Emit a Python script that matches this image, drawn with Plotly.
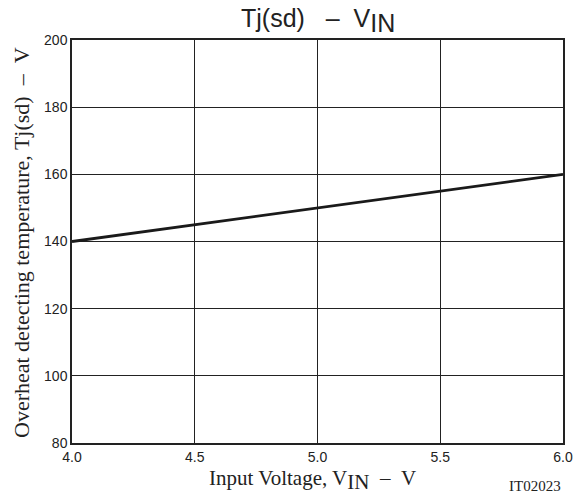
import plotly.graph_objects as go

vin = [4.0, 6.0]
tj = [140, 160]
x_ticks = [4.0, 4.5, 5.0, 5.5, 6.0]
x_tick_labels = ["4.0", "4.5", "5.0", "5.5", "6.0"]
y_ticks = [80, 100, 120, 140, 160, 180, 200]

SANS = "Liberation Sans, Arial, sans-serif"
SERIF = "Liberation Serif, Times New Roman, serif"
NB = "\u00a0"

fig = go.Figure()
fig.add_trace(go.Scatter(x=vin, y=tj, mode="lines",
                         line=dict(color="#1a1a1a", width=2.8),
                         showlegend=False, hoverinfo="skip"))

fig.update_layout(
    width=576, height=497, autosize=False,
    margin=dict(l=72, r=13, t=40, b=54),
    paper_bgcolor="white", plot_bgcolor="white",
    font=dict(family=SANS, color="#222"),
    xaxis=dict(range=[4.0, 6.0], tickvals=x_ticks, ticktext=x_tick_labels,
               showgrid=True, gridcolor="#222", gridwidth=1,
               showline=True, linecolor="#222", linewidth=1.5, mirror=True,
               ticks="", tickfont=dict(size=14, family=SANS),
               zeroline=False, automargin=False),
    yaxis=dict(range=[80, 200], tickvals=y_ticks,
               showgrid=True, gridcolor="#222", gridwidth=1,
               showline=True, linecolor="#222", linewidth=1.5, mirror=True,
               ticks="", tickfont=dict(size=14, family=SANS),
               zeroline=False, automargin=False),
)

fig.add_annotation(text="Tj(sd)" + NB * 3 + "\u2013" + NB * 2 + "V<sub><span style='font-size:25px'>IN</span></sub>",
                   xref="paper", yref="paper",
                   x=0.5, y=1.0, yshift=1, xanchor="center", yanchor="bottom",
                   showarrow=False, font=dict(size=25, family=SANS, color="#222"))
fig.add_annotation(text="Input Voltage, V<sub><span style='font-size:21px'>IN</span></sub>" + NB * 2 + "\u2013" + NB * 2 + "V",
                   xref="paper", yref="paper",
                   x=0.5, y=0, xshift=-5, yshift=-21, xanchor="center", yanchor="top",
                   showarrow=False, font=dict(size=21, family=SERIF, color="#222"))
fig.add_annotation(text="Overheat detecting temperature, Tj(sd)" + NB * 2 + "\u2013" + NB * 2 + "V",
                   xref="paper", yref="paper",
                   x=0, y=0.5, yshift=-1, xshift=-65, xanchor="left", yanchor="middle", textangle=-90,
                   showarrow=False, font=dict(size=22, family=SERIF, color="#222"))
fig.add_annotation(text="IT02023", xref="paper", yref="paper",
                   x=1.0, y=0, xshift=0, yshift=-33, xanchor="right", yanchor="top",
                   showarrow=False, font=dict(size=15, family=SERIF, color="#222"))

fig.write_html("out.html")
